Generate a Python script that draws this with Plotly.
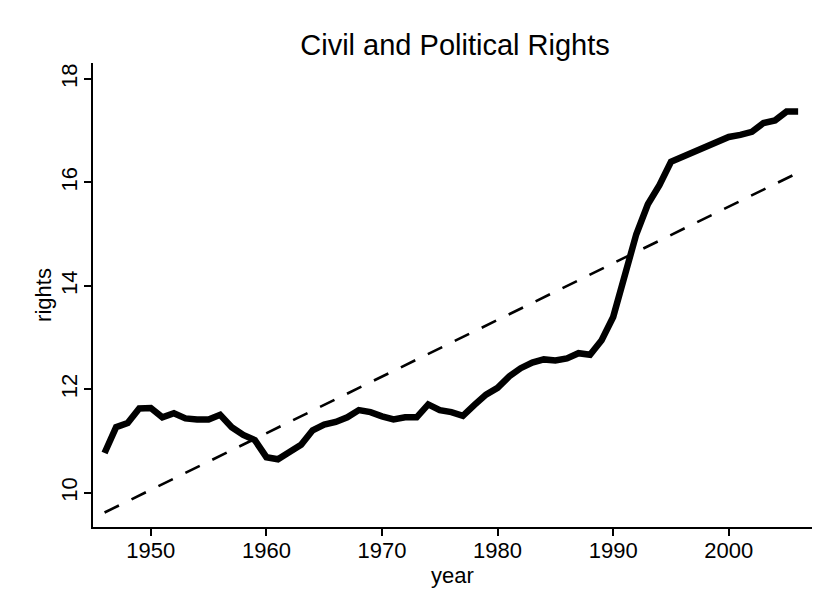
import plotly.graph_objects as go

years = list(range(1946, 2007))
rights = [10.77, 11.27, 11.35, 11.63, 11.64, 11.46, 11.54, 11.44, 11.42, 11.42,
          11.51, 11.27, 11.12, 11.02, 10.69, 10.65, 10.79, 10.93, 11.21, 11.32,
          11.37, 11.46, 11.6, 11.56, 11.48, 11.42, 11.46, 11.46, 11.71, 11.6,
          11.56, 11.49, 11.7, 11.9, 12.03, 12.25, 12.41, 12.52, 12.58, 12.56,
          12.6, 12.7, 12.67, 12.95, 13.4, 14.15, 15.0, 15.58, 15.95, 16.4,
          16.49, 16.58, 16.68, 16.79, 16.88, 16.92, 16.98, 17.15, 17.2, 17.37,
          17.37]
trend_years = [1946, 2006]
trend_values = [9.62, 16.19]

x_ticks = [1950, 1960, 1970, 1980, 1990, 2000]
y_ticks = [10, 12, 14, 16, 18]

FONT = "Liberation Sans, Arial, sans-serif"

# page body has an 8px margin; figure sized to fit inside the window
W, H = 817, 593
OFF = 8

fig = go.Figure()
fig.add_trace(go.Scatter(x=trend_years, y=trend_values, mode="lines",
                         line=dict(color="black", width=2.6, dash="16px,14px"),
                         showlegend=False))
fig.add_trace(go.Scatter(x=years, y=rights, mode="lines",
                         line=dict(color="black", width=6.5),
                         showlegend=False))

fig.update_layout(
    width=W, height=H,
    margin=dict(l=93 - OFF, r=OFF + W - 812, t=63 - OFF, b=OFF + H - 527),
    paper_bgcolor="white", plot_bgcolor="white",
    font=dict(family=FONT, color="black", size=22),
    title=dict(text="Civil and Political Rights", x=(455 - OFF) / W, xanchor="center",
               y=1 - (45 - OFF) / H, yanchor="middle", yref="container",
               font=dict(size=29, family=FONT, color="black")),
    xaxis=dict(range=[1945, 2007.2], tickvals=x_ticks, showgrid=False, zeroline=False,
               automargin=False,
               showline=True, linecolor="black", linewidth=2,
               ticks="outside", ticklen=7, tickwidth=1.5, tickcolor="black",
               tickfont=dict(size=22), ticklabelstandoff=-4,
               title=dict(text="year", font=dict(size=22), standoff=0)),
    yaxis=dict(range=[9.34, 18.31], tickvals=y_ticks, showgrid=False, zeroline=False,
               automargin=False,
               showline=True, linecolor="black", linewidth=2,
               ticks="outside", ticklen=7, tickwidth=1.5, tickcolor="black",
               tickangle=-90, tickfont=dict(size=22), ticklabelstandoff=-2,
               title=dict(text="rights", font=dict(size=22), standoff=0)),
)

fig.write_html("out.html")
